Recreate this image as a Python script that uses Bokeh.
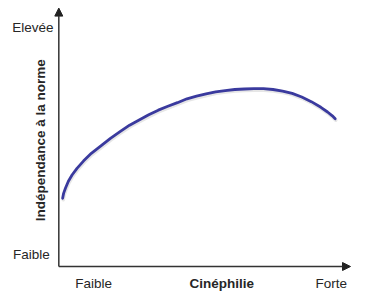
from bokeh.plotting import figure
from bokeh.models import Range1d, Arrow, NormalHead, ColumnDataSource
from bokeh.core.properties import value
from bokeh.embed import file_html
from bokeh.resources import INLINE

# Curve values (x: Cinéphilie 0..100, y: Indépendance à la norme 0..100)
cinephilie = [1.31, 1.64, 2.30, 3.28, 4.59, 6.23, 8.52, 11.15, 14.43, 17.70,
              20.98, 24.26, 27.54, 30.82, 34.10, 37.38, 40.66, 43.93, 47.21, 50.49,
              53.77, 57.05, 60.33, 63.61, 66.89, 70.16, 73.44, 76.72, 80.00, 83.28,
              86.56, 89.84, 92.13, 93.77, 94.75]
independance = [26.4, 28.3, 30.4, 33.0, 35.5, 38.0, 40.9, 43.8, 46.7, 49.6,
                52.2, 54.7, 56.7, 58.7, 60.5, 62.0, 63.4, 64.9, 65.9, 66.8,
                67.6, 68.1, 68.5, 68.7, 68.8, 68.8, 68.5, 67.9, 67.0, 65.6,
                63.8, 61.6, 59.8, 58.3, 57.2]

y_tick_labels = ["Faible", "Elevée"]
x_tick_labels = ["Faible", "Forte"]
x_title = "Cinéphilie"
y_title = "Indépendance à la norme"
x_max = 100
y_max = 100

W, H = 351, 292
p = figure(width=W, height=H, output_backend="svg", toolbar_location=None,
           x_range=Range1d(-19.99, 100.34), y_range=Range1d(-10.06, 102.94),
           min_border=0, outline_line_color=None)
p.xaxis.visible = False
p.yaxis.visible = False
p.xgrid.visible = False
p.ygrid.visible = False
p.background_fill_color = "white"
p.border_fill_color = "white"

font = value("Liberation Sans")
tc = "#262626"
fs = "13.5px"

# axes with arrows
p.add_layout(Arrow(end=NormalHead(size=8, fill_color="#222222", line_color="#222222", line_width=1),
                   x_start=0, y_start=0, x_end=0, y_end=y_max,
                   line_color="#333333", line_width=1.5))
p.add_layout(Arrow(end=NormalHead(size=8, fill_color="#222222", line_color="#222222", line_width=1),
                   x_start=0, y_start=0, x_end=x_max, y_end=0,
                   line_color="#333333", line_width=1.5))

# curve shadow + curve
src = ColumnDataSource(dict(x=cinephilie, y=independance,
                            xs=[v + 0.2 for v in cinephilie],
                            ys=[v - 0.6 for v in independance]))
p.line("xs", "ys", source=src, line_color="#9a9a9a", line_alpha=0.25, line_width=3.5,
       line_join="round", line_cap="round")
p.line("x", "y", source=src, line_color="#3a3a9e", line_width=2.8, line_join="round", line_cap="round")

# y tick labels
p.text(x=[-1.8, -3.1], y=[92.6, 4.5], text=[y_tick_labels[1], y_tick_labels[0]],
       text_font=font, text_font_size=fs, text_color=tc,
       text_align="right", text_baseline="middle")

# x tick labels
p.text(x=[11.97, 93.4], y=[-6.58, -6.58], text=[x_tick_labels[0], x_tick_labels[1]],
       text_font=font, text_font_size=fs, text_color=tc,
       text_align="center", text_baseline="alphabetic")

# titles
p.text(x=[55.9], y=[-6.58], text=[x_title], text_font=font, text_font_size=fs,
       text_font_style="bold", text_color=tc, text_align="center", text_baseline="alphabetic")
p.text(x=[-6.4], y=[48.9], text=[y_title], text_font=font, text_font_size=fs,
       text_font_style="bold", text_color=tc, text_align="center", text_baseline="middle",
       angle=1.5707963)

open("out.html", "w").write(file_html(p, INLINE))
